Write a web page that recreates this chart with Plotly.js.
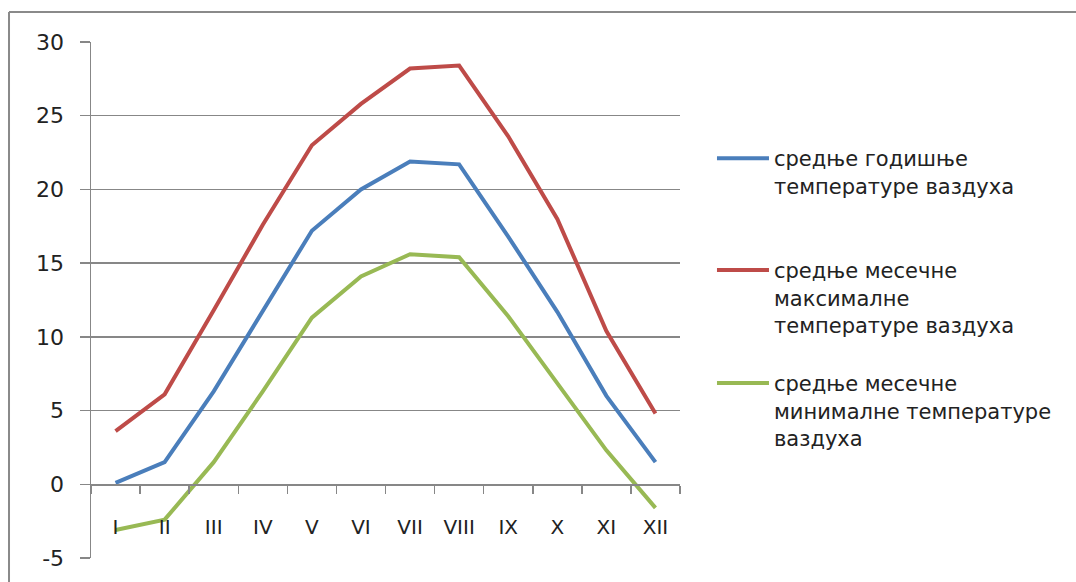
<!DOCTYPE html>
<html>
<head>
<meta charset="utf-8">
<script src="https://cdn.plot.ly/plotly-3.0.1.min.js"></script>
<style>
  html, body { margin: 0; padding: 0; background: #ffffff; }
  #chart { width: 1076px; height: 582px; }
</style>
</head>
<body>
<div id="chart"></div>
<script>
// Months (Roman numerals)
const months = ['I', 'II', 'III', 'IV', 'V', 'VI', 'VII', 'VIII', 'IX', 'X', 'XI', 'XII'];

// Mean monthly air temperature, °C
const meanTemp = [0.1, 1.5, 6.3, 11.8, 17.2, 20.0, 21.9, 21.7, 16.8, 11.7, 6.0, 1.5];
// Mean monthly maximum air temperature, °C
const maxTemp = [3.6, 6.1, 11.8, 17.6, 23.0, 25.8, 28.2, 28.4, 23.6, 18.0, 10.4, 4.8];
// Mean monthly minimum air temperature, °C
const minTemp = [-3.1, -2.4, 1.5, 6.3, 11.3, 14.1, 15.6, 15.4, 11.4, 6.9, 2.3, -1.6];

// Value axis ticks (plain hyphen for negatives)
const yTickValues = [-5, 0, 5, 10, 15, 20, 25, 30];
const yTickLabels = ['-5', '0', '5', '10', '15', '20', '25', '30'];

const seriesNames = [
  'средње годишње<br>температуре ваздуха',
  'средње месечне<br>максималне<br>температуре ваздуха',
  'средње месечне<br>минималне температуре<br>ваздуха'
];
const seriesColors = ['#4a7ebb', '#be4b48', '#98b954'];

const yMin = -5, yMax = 30;
const gridColor = '#878787';
const fontFamily = '"DejaVu Sans", Verdana, sans-serif';
const textColor = '#222222';

// each series gets its own legend box so the entries sit at even intervals
const legendIds = ['legend', 'legend2', 'legend3'];
const legendTops = [0.814, 0.597, 0.378];

const traces = [meanTemp, maxTemp, minTemp].map((vals, i) => ({
  type: 'scatter',
  mode: 'lines',
  x: months,
  y: vals,
  name: seriesNames[i],
  legend: legendIds[i],
  line: { color: seriesColors[i], width: 4 },
  hoverinfo: 'x+y'
}));

const layout = {
  width: 1076,
  height: 582,
  margin: { l: 91, r: 396, t: 42, b: 24, pad: 0 },
  paper_bgcolor: '#ffffff',
  plot_bgcolor: '#ffffff',
  font: { family: fontFamily, size: 20, color: textColor },
  showlegend: true,
  xaxis: {
    type: 'category',
    range: [-0.5, months.length - 0.5],
    anchor: 'free',
    // horizontal axis crosses the value axis at zero
    position: (0 - yMin) / (yMax - yMin),
    showline: true,
    linecolor: gridColor,
    linewidth: 1.5,
    ticks: 'outside',
    tickson: 'boundaries',
    ticklen: 8,
    tickwidth: 1.5,
    tickcolor: gridColor,
    ticklabelstandoff: 24,
    showgrid: false,
    zeroline: false,
    tickfont: { family: fontFamily, size: 20, color: textColor },
    fixedrange: true
  },
  yaxis: {
    range: [yMin, yMax],
    tickmode: 'array',
    tickvals: yTickValues,
    ticktext: yTickLabels,
    showline: true,
    linecolor: gridColor,
    linewidth: 1.5,
    showgrid: true,
    gridcolor: gridColor,
    gridwidth: 1.5,
    zeroline: false,
    ticks: 'outside',
    ticklen: 10,
    tickwidth: 1.5,
    tickcolor: gridColor,
    ticklabelstandoff: 11,
    tickfont: { family: fontFamily, size: 22, color: textColor },
    fixedrange: true
  },
  shapes: [
    // chart area frame: top and left edges
    { type: 'line', xref: 'paper', yref: 'paper', x0: -0.1392, x1: 1.7, y0: 1.0581, y1: 1.0581,
      line: { color: '#8a8a8a', width: 2 } },
    { type: 'line', xref: 'paper', yref: 'paper', x0: -0.1392, x1: -0.1392, y0: 1.0581, y1: -0.06,
      line: { color: '#8a8a8a', width: 2 } }
  ]
};

legendIds.forEach((id, i) => {
  layout[id] = {
    x: 1.0543,
    xanchor: 'left',
    y: legendTops[i],
    yanchor: 'top',
    valign: 'top',
    itemwidth: 52,
    font: { family: fontFamily, size: 21, color: textColor },
    bgcolor: 'rgba(0,0,0,0)'
  };
});

Plotly.newPlot('chart', traces, layout, { displayModeBar: false, staticPlot: true });
</script>
</body>
</html>
